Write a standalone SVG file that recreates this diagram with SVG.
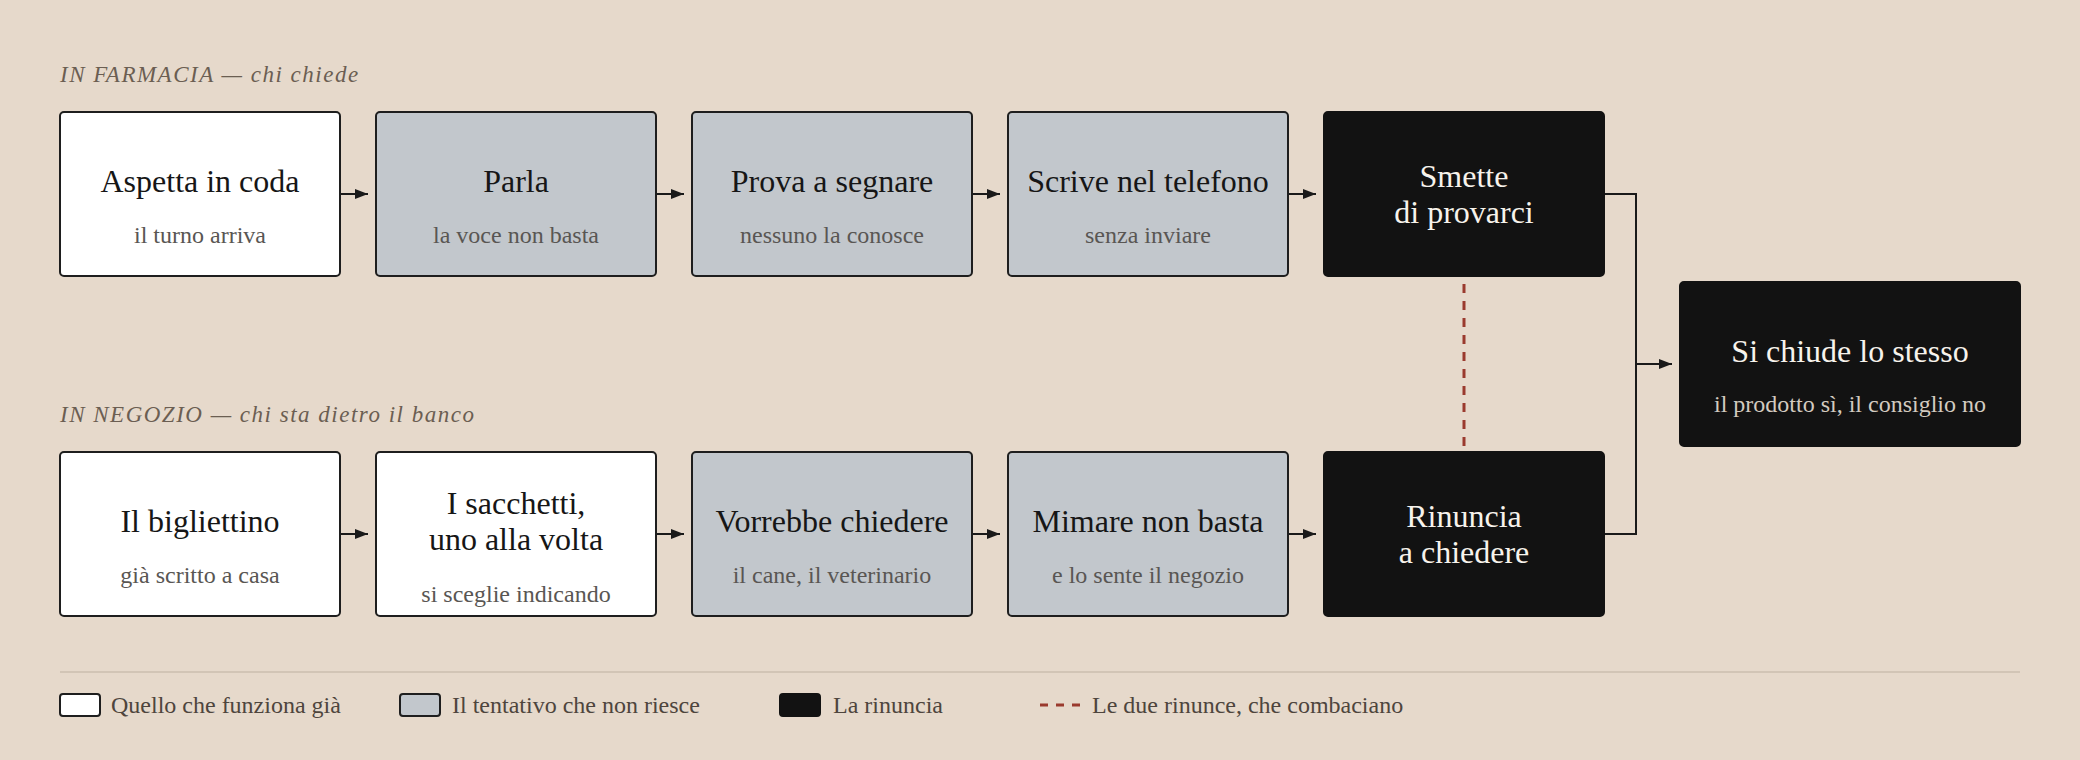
<svg xmlns="http://www.w3.org/2000/svg" width="2080" height="760" viewBox="0 0 2080 760">
  <defs>
    <marker id="arr" markerUnits="userSpaceOnUse" markerWidth="14" markerHeight="12" refX="13" refY="5" orient="auto">
      <path d="M0,0 L13,5 L0,10 z" fill="#1a1a1a"/>
    </marker>
    <style>
      text { font-family: 'Liberation Serif', 'Times New Roman', serif; }
      .box { stroke: #1e1e1e; stroke-width: 2; }
      .ok { fill: #ffffff; }
      .try { fill: #c2c7cc; }
      .quit { fill: #121212; stroke: #121212; }
      .t { font-size: 32px; fill: #161616; text-anchor: middle; }
      .s { font-size: 24px; fill: #595653; text-anchor: middle; }
      .tw { font-size: 32px; fill: #f7f3ec; text-anchor: middle; }
      .sw { font-size: 24px; fill: #d3cbc0; text-anchor: middle; }
      .sec { font-size: 23px; font-style: italic; fill: #6b5e52; letter-spacing: 1.5px; }
      .leg { font-size: 24px; fill: #4e453d; }
      .conn { fill: none; stroke: #1a1a1a; stroke-width: 2; }
      .match { fill: none; stroke: #9a3a2e; stroke-width: 3; stroke-dasharray: 9 8; }
    </style>
  </defs>
  <rect width="2080" height="760" fill="#e6d9cb"/>

  <text class="sec" x="60" y="82">IN FARMACIA — chi chiede</text>
  <text class="sec" x="60" y="422">IN NEGOZIO — chi sta dietro il banco</text>

  <g id="connectors">
    <line class="conn" x1="340" y1="194" x2="368" y2="194" marker-end="url(#arr)"/>
    <line class="conn" x1="656" y1="194" x2="684" y2="194" marker-end="url(#arr)"/>
    <line class="conn" x1="972" y1="194" x2="1000" y2="194" marker-end="url(#arr)"/>
    <line class="conn" x1="1288" y1="194" x2="1316" y2="194" marker-end="url(#arr)"/>
    <line class="conn" x1="340" y1="534" x2="368" y2="534" marker-end="url(#arr)"/>
    <line class="conn" x1="656" y1="534" x2="684" y2="534" marker-end="url(#arr)"/>
    <line class="conn" x1="972" y1="534" x2="1000" y2="534" marker-end="url(#arr)"/>
    <line class="conn" x1="1288" y1="534" x2="1316" y2="534" marker-end="url(#arr)"/>
    <path class="conn" d="M1604,194 H1636 V534 H1604"/>
    <line class="conn" x1="1636" y1="364" x2="1672" y2="364" marker-end="url(#arr)"/>
    <line class="match" x1="1464" y1="284" x2="1464" y2="446"/>
  </g>

  <g id="n-aspetta">
    <rect class="box ok" x="60" y="112" width="280" height="164" rx="4"/>
    <text class="t" x="200" y="192">Aspetta in coda</text>
    <text class="s" x="200" y="243">il turno arriva</text>
  </g>
  <g id="n-parla">
    <rect class="box try" x="376" y="112" width="280" height="164" rx="4"/>
    <text class="t" x="516" y="192">Parla</text>
    <text class="s" x="516" y="243">la voce non basta</text>
  </g>
  <g id="n-prova">
    <rect class="box try" x="692" y="112" width="280" height="164" rx="4"/>
    <text class="t" x="832" y="192">Prova a segnare</text>
    <text class="s" x="832" y="243">nessuno la conosce</text>
  </g>
  <g id="n-scrive">
    <rect class="box try" x="1008" y="112" width="280" height="164" rx="4"/>
    <text class="t" x="1148" y="192">Scrive nel telefono</text>
    <text class="s" x="1148" y="243">senza inviare</text>
  </g>
  <g id="n-smette">
    <rect class="box quit" x="1324" y="112" width="280" height="164" rx="4"/>
    <text class="tw" x="1464" y="187">Smette</text>
    <text class="tw" x="1464" y="223">di provarci</text>
  </g>

  <g id="n-biglietto">
    <rect class="box ok" x="60" y="452" width="280" height="164" rx="4"/>
    <text class="t" x="200" y="532">Il bigliettino</text>
    <text class="s" x="200" y="583">già scritto a casa</text>
  </g>
  <g id="n-sacchetti">
    <rect class="box ok" x="376" y="452" width="280" height="164" rx="4"/>
    <text class="t" x="516" y="514">I sacchetti,</text>
    <text class="t" x="516" y="550">uno alla volta</text>
    <text class="s" x="516" y="602">si sceglie indicando</text>
  </g>
  <g id="n-vorrebbe">
    <rect class="box try" x="692" y="452" width="280" height="164" rx="4"/>
    <text class="t" x="832" y="532">Vorrebbe chiedere</text>
    <text class="s" x="832" y="583">il cane, il veterinario</text>
  </g>
  <g id="n-mimare">
    <rect class="box try" x="1008" y="452" width="280" height="164" rx="4"/>
    <text class="t" x="1148" y="532">Mimare non basta</text>
    <text class="s" x="1148" y="583">e lo sente il negozio</text>
  </g>
  <g id="n-rinuncia">
    <rect class="box quit" x="1324" y="452" width="280" height="164" rx="4"/>
    <text class="tw" x="1464" y="527">Rinuncia</text>
    <text class="tw" x="1464" y="563">a chiedere</text>
  </g>

  <g id="n-chiude">
    <rect class="box quit" x="1680" y="282" width="340" height="164" rx="4"/>
    <text class="tw" x="1850" y="362">Si chiude lo stesso</text>
    <text class="sw" x="1850" y="412">il prodotto sì, il consiglio no</text>
  </g>

  <g id="legend">
    <line x1="60" y1="672" x2="2020" y2="672" stroke="#d2c5b6" stroke-width="2"/>
    <rect class="box ok" x="60" y="694" width="40" height="22" rx="3"/>
    <text class="leg" x="111" y="713">Quello che funziona già</text>
    <rect class="box try" x="400" y="694" width="40" height="22" rx="3"/>
    <text class="leg" x="452" y="713">Il tentativo che non riesce</text>
    <rect class="box quit" x="780" y="694" width="40" height="22" rx="3"/>
    <text class="leg" x="833" y="713">La rinuncia</text>
    <line x1="1040" y1="705" x2="1080" y2="705" stroke="#9a3a2e" stroke-width="3" stroke-dasharray="8 8"/>
    <text class="leg" x="1092" y="713">Le due rinunce, che combaciano</text>
  </g>
</svg>
